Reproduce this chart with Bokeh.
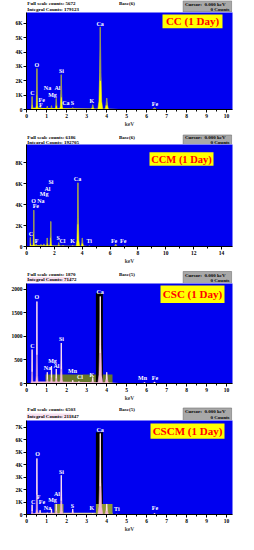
from bokeh.plotting import figure
from bokeh.models import FixedTicker, ColumnDataSource
from bokeh.layouts import column
from bokeh.embed import file_html
from bokeh.resources import INLINE
from bokeh.core.properties import value

FONT = "Liberation Serif"
BLUE = "#0000f0"

# ---------------- data ----------------
# Panel 1 : CC (1 Day)
cc_tag = "CC (1 Day)"
cc_header = ["Full scale counts: 5672", "Integral Counts: 179123", "Base(6)"]
cc_peak_kev = [0.28, 0.52, 0.70, 1.04, 1.25, 1.49, 1.74, 2.31, 3.31, 3.69, 4.01, 6.40]
cc_peak_cnt = [900, 2850, 260, 220, 260, 770, 2420, 130, 330, 5730, 780, 120]
cc_bg_kev = [0.15, 0.35, 1.0, 2.0, 3.0, 4.2, 4.6, 6.0, 8.0, 10.3]
cc_bg_cnt = [0, 120, 110, 80, 70, 50, 30, 20, 15, 10]
cc_lbl_text = ["C", "O", "Fe", "F", "Na", "Mg", "Al", "Si", "Ca", "S", "K", "Ca", "Fe"]
cc_lbl_kev = [0.30, 0.52, 0.76, 0.72, 1.05, 1.30, 1.55, 1.75, 1.97, 2.30, 3.27, 3.68, 6.42]
cc_lbl_cnt = [1140, 3120, 660, 320, 1480, 1000, 1480, 2660, 460, 430, 610, 5960, 350]
cc_xticks = [0, 1, 2, 3, 4, 5, 6, 7, 8, 9, 10]
cc_yticks = [0, 1000, 2000, 3000, 4000, 5000, 6000]
cc_ylabels = ["0", "1K", "2K", "3K", "4K", "5K", "6K"]

# Panel 2 : CCM (1 Day)
ccm_tag = "CCM (1 Day)"
ccm_header = ["Full scale counts: 6186", "Integral Counts: 192705", "Base(6)"]
ccm_peak_kev = [0.28, 0.52, 0.70, 1.04, 1.25, 1.49, 1.74, 2.31, 2.62, 3.31, 3.69, 4.01, 4.51, 6.40, 7.06]
ccm_peak_cnt = [850, 3480, 250, 200, 250, 820, 2390, 370, 120, 120, 6100, 820, 60, 230, 60]
ccm_bg_kev = [0.15, 0.35, 1.0, 2.0, 3.0, 4.2, 4.6, 7.0, 10.0, 14.8]
ccm_bg_cnt = [0, 120, 120, 100, 80, 60, 30, 20, 10, 5]
ccm_lbl_text = ["C", "F", "O", "Na", "Fe", "Mg", "Al", "Si", "Ca", "S", "Cl", "K", "Ti", "Fe", "Fe"]
ccm_lbl_kev = [0.31, 0.72, 0.50, 1.03, 0.67, 1.27, 1.51, 1.75, 3.66, 2.27, 2.58, 3.30, 4.50, 6.29, 6.94]
ccm_lbl_cnt = [1150, 530, 4400, 4400, 3840, 5020, 5550, 6170, 6420, 840, 530, 550, 500, 530, 500]
ccm_xticks = [0, 2, 4, 6, 8, 10, 12, 14]
ccm_yticks = [0, 2000, 4000, 6000, 8000]
ccm_ylabels = ["0", "2K", "4K", "6K", "8K"]

# Panel 3 : CSC (1 Day)
csc_tag = "CSC (1 Day)"
csc_header = ["Full scale counts: 1870", "Integral Counts: 71472", "Base(5)"]
csc_peak_kev = [0.28, 0.52, 1.04, 1.25, 1.49, 1.74, 2.31, 2.62, 3.31, 3.69, 4.01, 5.90, 6.40]
csc_peak_cnt = [720, 1740, 240, 370, 310, 860, 70, 45, 130, 1850, 240, 20, 30]
csc_bg_kev = [0.15, 0.35, 1.0, 2.0, 3.0, 4.2, 4.6, 6.0, 8.0, 10.3]
csc_bg_cnt = [0, 40, 40, 35, 30, 20, 10, 8, 5, 3]
csc_lbl_text = ["C", "O", "Na", "Mg", "Al", "Si", "Mn", "Cl", "K", "Ca", "Mn", "Fe"]
csc_lbl_kev = [0.30, 0.52, 1.05, 1.30, 1.50, 1.75, 2.30, 2.67, 3.27, 3.68, 5.80, 6.42]
csc_lbl_cnt = [790, 1830, 326, 480, 375, 944, 257, 132, 181, 1937, 110, 110]
csc_roi_lo = [0.95, 3.47]
csc_roi_hi = [4.30, 3.82]
csc_roi_top = [190, 1930]
csc_roi_color = ["#66772a", "#000000"]
csc_xticks = [0, 1, 2, 3, 4, 5, 6, 7, 8, 9, 10]
csc_yticks = [0, 500, 1000, 1500, 2000]
csc_ylabels = ["0", "500", "1000", "1500", "2000"]

# Panel 4 : CSCM (1 Day)
cscm_tag = "CSCM (1 Day)"
cscm_header = ["Full scale counts: 6503", "Integral Counts: 211847", "Base(5)"]
cscm_peak_kev = [0.28, 0.52, 0.68, 1.04, 1.25, 1.49, 1.74, 2.31, 3.31, 3.69, 4.01, 4.51, 6.40]
cscm_peak_cnt = [780, 4500, 350, 150, 450, 850, 3150, 450, 100, 6500, 850, 40, 80]
cscm_bg_kev = [0.15, 0.35, 1.0, 2.0, 3.0, 4.2, 4.6, 6.0, 8.0, 10.3]
cscm_bg_cnt = [0, 100, 110, 90, 70, 50, 25, 20, 10, 5]
cscm_lbl_text = ["C", "F", "Fe", "O", "Mg", "Al", "Na", "Si", "S", "K", "Ca", "Ti", "Fe"]
cscm_lbl_kev = [0.33, 0.60, 0.77, 0.55, 1.30, 1.52, 1.05, 1.75, 2.30, 3.27, 3.68, 4.52, 6.42]
cscm_lbl_cnt = [1030, 1440, 970, 4820, 1180, 1620, 540, 3410, 720, 510, 6740, 410, 540]
cscm_roi_lo = [0.45, 3.47, 1.40, 3.47]
cscm_roi_hi = [4.30, 3.82, 1.85, 4.30]
cscm_roi_top = [150, 6600, 850, 850]
cscm_roi_color = ["#d8d890", "#000000", "#8f9a35", "#8f9a35"]
cscm_xticks = [0, 1, 2, 3, 4, 5, 6, 7, 8, 9, 10]
cscm_yticks = [0, 1000, 2000, 3000, 4000, 5000, 6000, 7000]
cscm_ylabels = ["0", "1K", "2K", "3K", "4K", "5K", "6K", "7K"]

# ---------------- layout / style ----------------
SHAPE_DX = [-1, -0.55, -0.25, 0, 0.25, 0.55, 1]
SHAPE_FY = [0, 0.10, 0.45, 1, 0.45, 0.10, 0]

PANELS = [
    dict(tag=cc_tag, header=cc_header, pk=cc_peak_kev, pc=cc_peak_cnt, bk=cc_bg_kev, bc=cc_bg_cnt,
         lt=cc_lbl_text, lk=cc_lbl_kev, lc=cc_lbl_cnt, xt=cc_xticks, yt=cc_yticks, yl=cc_ylabels,
         roi=None, fill="#ffff00", core="#8f8f60", pink=False,
         hpage=8, hh=12, h=117, bot=18, ppx=20.0, ppy=0.01467,
         l1=11, l2=17, box=(8.3, 19.5), tagbox=(170, 230, 22, 36), tagfs="11px", minor=0.5),
    dict(tag=ccm_tag, header=ccm_header, pk=ccm_peak_kev, pc=ccm_peak_cnt, bk=ccm_bg_kev, bc=ccm_bg_cnt,
         lt=ccm_lbl_text, lk=ccm_lbl_kev, lc=ccm_lbl_cnt, xt=ccm_xticks, yt=ccm_yticks, yl=ccm_ylabels,
         roi=None, fill="#ffff00", core="#8f8f60", pink=False,
         hpage=137, hh=15, h=122, bot=17, ppx=13.93, ppy=0.01075,
         l1=145, l2=150, box=(142.5, 152), tagbox=(157, 221, 160, 174), tagfs="10.5px", minor=1.0),
    dict(tag=csc_tag, header=csc_header, pk=csc_peak_kev, pc=csc_peak_cnt, bk=csc_bg_kev, bc=csc_bg_cnt,
         lt=csc_lbl_text, lk=csc_lbl_kev, lc=csc_lbl_cnt, xt=csc_xticks, yt=csc_yticks, yl=csc_ylabels,
         roi=(csc_roi_lo, csc_roi_hi, csc_roi_top, csc_roi_color), fill="#f2b6d6", core="#ffe6f2", pink=True,
         hpage=274, hh=17, h=120, bot=18, ppx=20.0, ppy=0.048,
         l1=281.5, l2=287, box=(279, 291), tagbox=(168, 232, 293, 311), tagfs="11px", minor=0.5),
    dict(tag=cscm_tag, header=cscm_header, pk=cscm_peak_kev, pc=cscm_peak_cnt, bk=cscm_bg_kev, bc=cscm_bg_cnt,
         lt=cscm_lbl_text, lk=cscm_lbl_kev, lc=cscm_lbl_cnt, xt=cscm_xticks, yt=cscm_yticks, yl=cscm_ylabels,
         roi=(cscm_roi_lo, cscm_roi_hi, cscm_roi_top, cscm_roi_color), fill="#f2b6d6", core="#ffe6f2", pink=True,
         hpage=411, hh=17, h=114, bot=16, ppx=20.0, ppy=0.013,
         l1=417, l2=423.5, box=(415.5, 428), tagbox=(158, 232, 431, 447), tagfs="11px", minor=0.5),
]

FRAME_LEFT_PAGE = 34
FRAME_W = 206
PAGE_X0 = 8


def header(P):
    hh = P["hh"]
    top = P["hpage"]
    h = figure(width=238, height=hh, x_range=(0, 238), y_range=(hh, 0),
               output_backend="svg", toolbar_location=None, title=None,
               x_axis_type=None, y_axis_type=None, min_border=0,
               outline_line_color=None, background_fill_color="white",
               border_fill_color="white")
    h.grid.visible = False
    cy = lambda py: py - top
    cx = lambda px: px - PAGE_X0
    if P["pink"]:
        h.quad(left=[0], right=[cx(60)], top=[cy(P["l2"] - 2.5)], bottom=[cy(P["l2"] + 2.5)],
               fill_color="#f8e0f0", line_color=None)
    b0, b1 = P["box"]
    h.quad(left=[cx(189)], right=[cx(245)], top=[cy(b0)], bottom=[cy(b1)],
           fill_color="#a8a8a8", line_color="#707070", line_width=0.6)
    tk = dict(text_font=value(FONT), text_font_style="bold", text_font_size="5px",
              text_color="black", text_baseline="middle")
    bh = b1 - b0
    h.text(x=[cx(9), cx(9), cx(191)],
           y=[cy(P["l1"]), cy(P["l2"]), cy(b0 + bh * 0.3)],
           text=[P["header"][0], P["header"][1], "Cursor:"], text_align="left", **tk)
    h.text(x=[cx(124)], y=[cy(P["l1"])], text=[P["header"][2]], text_align="center", **tk)
    h.text(x=[cx(238), cx(244)], y=[cy(b0 + bh * 0.3), cy(b0 + bh * 0.74)],
           text=["0.000 keV", "0  Counts"], text_align="right", **tk)
    return h


def build(P):
    frame_h = P["h"] - P["bot"]
    frame_top_page = P["hpage"] + P["hh"]
    bottom_page = frame_top_page + frame_h
    xmax = FRAME_W / P["ppx"]
    ymax = frame_h / P["ppy"]

    def dx(px):
        return (px - FRAME_LEFT_PAGE) / P["ppx"]

    def dy(py):
        return (bottom_page - py) / P["ppy"]

    p = figure(width=238, height=P["h"], x_range=(0, xmax), y_range=(0, ymax),
               output_backend="svg", toolbar_location=None, title=None,
               min_border_left=26, min_border_right=6,
               min_border_top=0, min_border_bottom=P["bot"],
               background_fill_color=BLUE, border_fill_color="white",
               outline_line_color=None)
    p.grid.visible = False

    if P["roi"] is not None:
        lo, hi, tp, col = P["roi"]
        p.quad(left=lo, right=hi, bottom=0, top=tp, fill_color=col, line_color=None)

    p.varea(x=P["bk"], y1=[0] * len(P["bk"]), y2=P["bc"], fill_color=P["fill"])

    xs, ys = [], []
    for e, hgt in zip(P["pk"], P["pc"]):
        w = 0.05 + 0.02 * e
        xs.append([e + o * w for o in SHAPE_DX])
        ys.append([f * hgt for f in SHAPE_FY])
    p.patches(xs=xs, ys=ys, fill_color=P["fill"], line_color=P["fill"], line_width=0.5)
    p.segment(x0=P["pk"], y0=[0.35 * c for c in P["pc"]], x1=P["pk"], y1=P["pc"],
              line_color=P["core"], line_width=1.2)

    src = ColumnDataSource(dict(x=P["lk"], y=P["lc"], t=P["lt"]))
    p.text(x="x", y="y", text="t", source=src, text_color="white",
           text_font=value(FONT), text_font_style="bold", text_font_size="6px",
           text_align="center", text_baseline="middle")

    # sample tag box
    l, r, t, b = P["tagbox"]
    p.quad(left=[dx(l)], right=[dx(r)], top=[dy(t)], bottom=[dy(b)],
           fill_color="#ffff00", line_color=None)
    p.text(x=[dx((l + r) / 2)], y=[dy((t + b) / 2)], text=[P["tag"]],
           text_font=value(FONT), text_font_style="bold", text_font_size=P["tagfs"],
           text_color="#ff0000", text_align="center", text_baseline="middle")

    minor = []
    v = 0.0
    while v <= P["xt"][-1] + 1e-9:
        if all(abs(v - tt) > 1e-9 for tt in P["xt"]):
            minor.append(round(v, 3))
        v += P["minor"]
    p.xaxis.ticker = FixedTicker(ticks=P["xt"], minor_ticks=minor)
    p.yaxis.ticker = FixedTicker(ticks=P["yt"], minor_ticks=[])
    p.yaxis.major_label_overrides = {tt: lab for tt, lab in zip(P["yt"], P["yl"])}
    p.xaxis.axis_label = "keV"
    for ax in (p.xaxis, p.yaxis):
        ax.axis_line_color = "black"
        ax.axis_line_width = 1
        ax.major_tick_line_color = "black"
        ax.minor_tick_line_color = "black"
        ax.major_tick_out = 3
        ax.major_tick_in = 0
        ax.minor_tick_out = 2
        ax.minor_tick_in = 0
        ax.major_label_text_font = FONT
        ax.major_label_text_font_style = "bold"
        ax.major_label_text_font_size = "5.5px"
        ax.major_label_text_color = "black"
        ax.major_label_standoff = 1
        ax.axis_label_text_font = FONT
        ax.axis_label_text_font_style = "bold"
        ax.axis_label_text_font_size = "5.5px"
        ax.axis_label_standoff = 0
    return p


items = []
for P in PANELS:
    items.append(header(P))
    items.append(build(P))
layout = column(*items, spacing=0)
open("out.html", "w").write(file_html(layout, INLINE))
